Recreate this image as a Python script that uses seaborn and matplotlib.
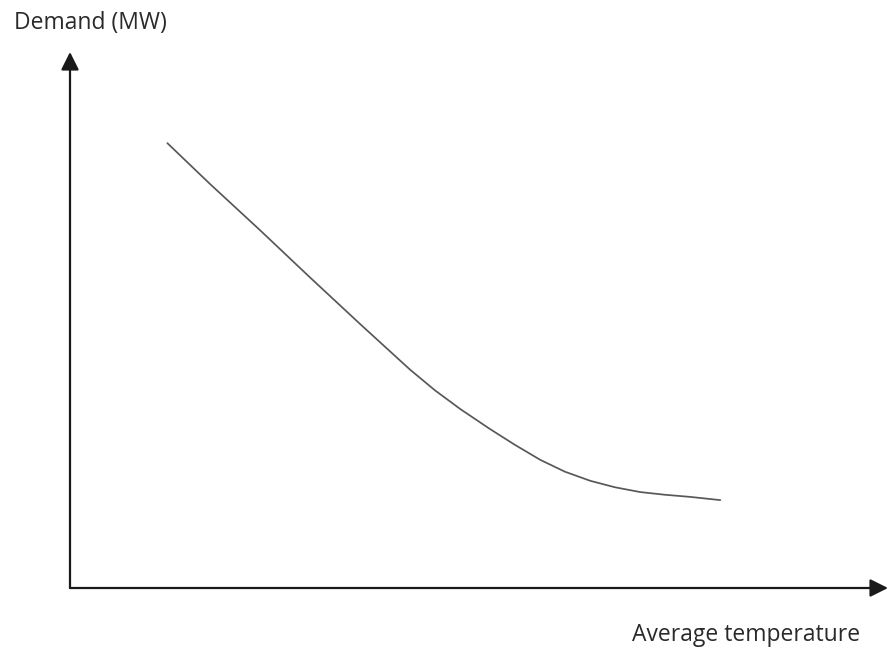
import matplotlib
matplotlib.use("Agg")
import matplotlib.pyplot as plt
import seaborn as sns
import pandas as pd

# Data (arbitrary units)
temperature = [11.9, 17.1, 23.2, 29.3, 35.5, 41.6, 44.6, 47.7, 51.3, 54.4,
               57.5, 60.5, 63.6, 66.6, 69.7, 72.7, 75.8, 79.5]
demand = [83.0, 75.4, 66.8, 58.0, 49.2, 40.7, 36.9, 33.4, 29.7, 26.7,
          23.9, 21.7, 20.0, 18.8, 17.9, 17.4, 17.0, 16.4]
x_label = "Average temperature"
y_label = "Demand (MW)"

sns.set_theme(style="white")
plt.rcParams['font.family'] = ['Open Sans', 'DejaVu Sans']

W, H = 890, 653
fig = plt.figure(figsize=(W / 100, H / 100), dpi=100)
ax = fig.add_axes([70 / W, (H - 588) / H, (888 - 70) / W, (588 - 52) / H])

df = pd.DataFrame({"temperature": temperature, "demand": demand})
sns.lineplot(data=df, x="temperature", y="demand", ax=ax, color="#585858",
             linewidth=1.25, sort=False)

ax.set_xlim(0, 100)
ax.set_ylim(0, 100)
for s in ax.spines.values():
    s.set_visible(False)
ax.set_xticks([])
ax.set_yticks([])
ax.set_xlabel("")
ax.set_ylabel("")

arrow = dict(arrowstyle="-|>,head_length=0.9,head_width=0.45", color="#1a1a1a",
             lw=1.6, shrinkA=0, shrinkB=0)
ax.annotate("", xy=(1, 0), xytext=(0, 0), xycoords="axes fraction",
            textcoords="axes fraction", arrowprops=arrow, annotation_clip=False)
ax.annotate("", xy=(0, 1), xytext=(0, 0), xycoords="axes fraction",
            textcoords="axes fraction", arrowprops=arrow, annotation_clip=False)

fig.text(14 / W, 1 - 23 / H, y_label, ha="left", va="center", fontsize=16.5,
         color="#2a2a2a")
fig.text(860 / W, 1 - 635 / H, x_label, ha="right", va="center", fontsize=16.5,
         color="#2a2a2a")

fig.savefig("out.png", dpi=100)
